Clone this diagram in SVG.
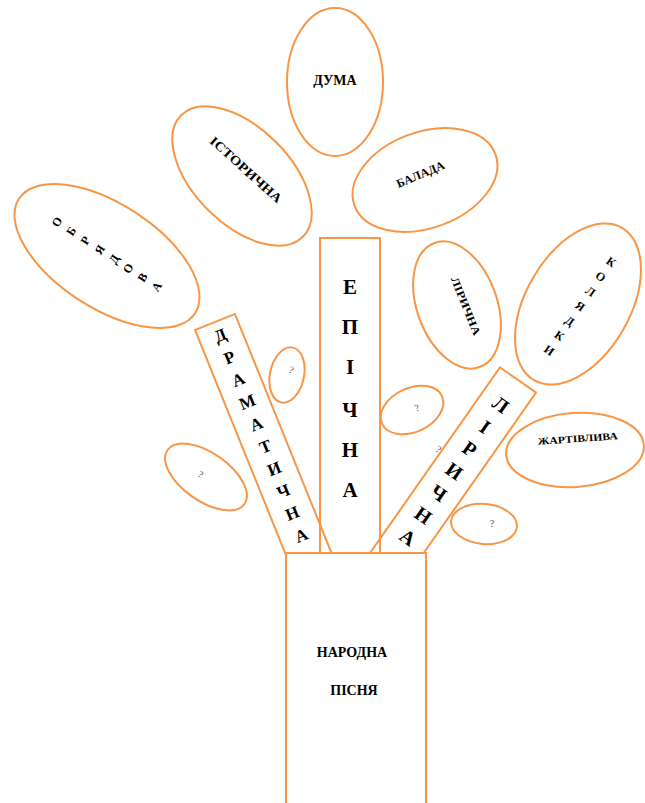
<svg xmlns="http://www.w3.org/2000/svg" width="645" height="803" viewBox="0 0 645 803">
<style>
.o{fill:#fff;stroke:#F79646;stroke-width:2}
.r{fill:none;stroke:#F79646;stroke-width:2}
.t{font-family:"Liberation Serif","DejaVu Serif",serif;font-weight:bold;fill:#000;text-anchor:middle}
.q{font-family:"Liberation Serif","DejaVu Serif",serif;fill:#555;text-anchor:middle;font-size:10px}
</style>
<rect width="645" height="803" fill="#fff"/>
<g id="duma"><ellipse class="o" cx="335" cy="82" rx="48" ry="74"/><text class="t" x="335" y="85" font-size="14">ДУМА</text></g>
<g id="istorychna"><ellipse class="o" cx="242" cy="176" rx="86" ry="48" transform="rotate(45 242 176)"/><text class="t" x="0" y="0" font-size="13" textLength="92" lengthAdjust="spacingAndGlyphs" transform="translate(243 173) rotate(42)">ІСТОРИЧНА</text></g>
<g id="balada"><ellipse class="o" cx="425" cy="180" rx="75" ry="48" transform="rotate(-20 425 180)"/><text class="t" x="0" y="0" font-size="12" transform="translate(422 178) rotate(-23)">БАЛАДА</text></g>
<g id="obriadova"><ellipse class="o" cx="107" cy="256" rx="105" ry="52" transform="rotate(33 107 256)"/>
<g class="t" font-size="12" transform="translate(57 222) rotate(-57)"><text x="0" y="4">О</text><text x="0" y="21">Б</text><text x="0" y="38">Р</text><text x="0" y="55">Я</text><text x="0" y="72">Д</text><text x="0" y="89">О</text><text x="0" y="106">В</text><text x="0" y="123">А</text></g></g>
<g id="lirychna-e"><ellipse class="o" cx="457" cy="305" rx="66" ry="40" transform="rotate(70 457 305)"/><text class="t" x="0" y="0" font-size="11" textLength="62" lengthAdjust="spacingAndGlyphs" transform="translate(466 306) rotate(68) translate(0 4)">ЛІРИЧНА</text></g>
<g id="koliadky"><ellipse class="o" cx="578" cy="304" rx="88" ry="52" transform="rotate(-60 578 304)"/>
<g class="t" font-size="12" transform="translate(611 262) rotate(35)"><text x="0" y="4">К</text><text x="0" y="22">О</text><text x="0" y="40">Л</text><text x="0" y="58">Я</text><text x="0" y="76">Д</text><text x="0" y="94">К</text><text x="0" y="112">И</text></g></g>
<g id="zhartivlyva"><ellipse class="o" cx="575" cy="450" rx="69" ry="37" transform="rotate(-4 575 450)"/><text class="t" x="0" y="0" font-size="10" textLength="80" lengthAdjust="spacingAndGlyphs" transform="translate(578 442) rotate(-4)">ЖАРТІВЛИВА</text></g>
<g id="q1"><ellipse class="o" cx="287" cy="375" rx="17" ry="28" transform="rotate(12 287 375)"/><text class="q" transform="translate(290 373) rotate(20)">?</text></g>
<g id="q2"><ellipse class="o" cx="206" cy="477" rx="47" ry="24" transform="rotate(35 206 477)"/><text class="q" transform="translate(199 477) rotate(30)">?</text></g>
<g id="q3"><ellipse class="o" cx="412" cy="410" rx="33" ry="22" transform="rotate(-25 412 410)"/><text class="q" transform="translate(418 411) rotate(-20)">?</text></g>
<g id="q4"><ellipse class="o" cx="484" cy="524" rx="33" ry="20" transform="rotate(5 484 524)"/><text class="q" transform="translate(492 527)">?</text></g>
<text class="q" font-size="7" transform="translate(437 452) rotate(30)">?</text>
<g id="epichna"><rect class="r" x="320" y="238" width="60" height="330"/>
<g class="t" font-size="21"><text x="350" y="294">Е</text><text x="350" y="334">П</text><text x="350" y="374">І</text><text x="350" y="417">Ч</text><text x="350" y="457">Н</text><text x="350" y="497">А</text></g></g>
<g id="dramatychna" transform="translate(215 322) rotate(-22)"><rect class="r" x="-21.5" y="0" width="43" height="260"/>
<g class="t" font-size="17"><text x="0" y="20">Д</text><text x="0" y="44">Р</text><text x="0" y="68">А</text><text x="0" y="92">М</text><text x="0" y="116">А</text><text x="0" y="140">Т</text><text x="0" y="164">И</text><text x="0" y="188">Ч</text><text x="0" y="212">Н</text><text x="0" y="236">А</text></g></g>
<g id="lirychna" transform="translate(518 380) rotate(35)"><rect class="r" x="-22" y="0" width="44" height="240"/>
<g class="t" font-size="20"><text x="0" y="37">Л</text><text x="0" y="64">І</text><text x="0" y="91">Р</text><text x="0" y="118">И</text><text x="0" y="145">Ч</text><text x="0" y="172">Н</text><text x="0" y="199">А</text></g></g>
<g id="trunk"><rect class="o" x="286" y="553" width="140" height="270"/><text class="t" x="352" y="657" font-size="14">НАРОДНА</text><text class="t" x="354" y="695" font-size="14">ПІСНЯ</text></g>
</svg>
